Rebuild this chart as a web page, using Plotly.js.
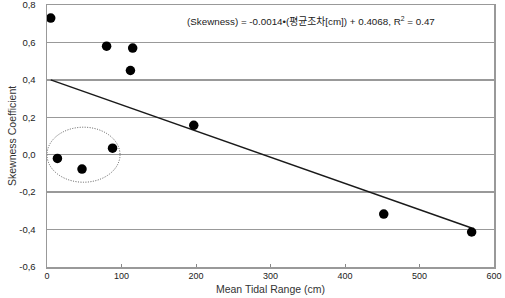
<!DOCTYPE html>
<html>
<head>
<meta charset="utf-8">
<script src="https://cdn.plot.ly/plotly-3.0.1.min.js"></script>
<style>
  html, body { margin: 0; padding: 0; background: #fff; }
  #chart { width: 505px; height: 298px; }
</style>
</head>
<body>
<div id="chart"></div>
<script>
// Mean tidal range (cm) and skewness coefficient per station
const tidalRange = [5, 80, 115, 112, 197, 14, 47, 88, 452, 570];
const skewness   = [0.73, 0.58, 0.57, 0.45, 0.157, -0.02, -0.077, 0.035, -0.317, -0.413];

// Linear fit stated in the annotation
const slope = -0.0014;
const intercept = 0.4068;
const rSquared = 0.47;

const yTickVals = [-0.6, -0.4, -0.2, 0.0, 0.2, 0.4, 0.6, 0.8];
const yTickText = ['-0,6', '-0,4', '-0,2', '0,0', '0,2', '0,4', '0,6', '0,8'];
const xTickVals = [0, 100, 200, 300, 400, 500, 600];

const fitX = [Math.min(...tidalRange), Math.max(...tidalRange)];
const fitY = fitX.map(x => slope * x + intercept);

const font = "'Liberation Sans', Arial, 'Noto Sans CJK KR', sans-serif";

const traces = [
  {
    x: fitX, y: fitY, type: 'scatter', mode: 'lines',
    line: { color: '#1a1a1a', width: 1.5 }, hoverinfo: 'skip'
  },
  {
    x: tidalRange, y: skewness, type: 'scatter', mode: 'markers',
    marker: { color: '#000', size: 9.5 }
  }
];

const layout = {
  width: 505, height: 298,
  margin: { l: 47, r: 11, t: 4.5, b: 31 },
  paper_bgcolor: '#fff', plot_bgcolor: '#fff',
  showlegend: false,
  font: { family: font, size: 9, color: '#333' },
  xaxis: {
    range: [0, 600], tickvals: xTickVals, ticks: 'inside', ticklen: 3,
    tickcolor: '#888', showgrid: false, zeroline: false,
    showline: true, linecolor: '#999', linewidth: 1.5, mirror: true,
    tickfont: { size: 9, color: '#222' },
    title: { text: 'Mean Tidal Range (cm)', font: { size: 10.5, color: '#333' }, standoff: 5 }
  },
  yaxis: {
    range: [-0.6, 0.8], tickvals: yTickVals, ticktext: yTickText,
    ticks: '', showgrid: true, gridcolor: '#999', gridwidth: 1.3,
    zeroline: false, showline: true, linecolor: '#999', linewidth: 1.5, mirror: true,
    ticklabelstandoff: 8, ticklabeloverflow: 'allow',
    tickfont: { size: 9.5, color: '#222' }
  },
  shapes: [
    {
      type: 'circle', xref: 'x', yref: 'y',
      x0: 0, x1: 98, y0: -0.147, y1: 0.147,
      line: { color: '#555', width: 1, dash: '1px,1.5px' }
    }
  ],
  annotations: [
    {
      xref: 'x', yref: 'y', x: 354, y: 0.717,
      text: '(Skewness) = ' + slope.toFixed(4) + '•(평균조차[cm]) + ' + intercept.toFixed(4) +
            ', R<sup>2</sup> = ' + rSquared.toFixed(2),
      showarrow: false, font: { size: 9.8, color: '#222' }
    },
    {
      // y-axis title
      xref: 'paper', yref: 'paper', x: -35 / 447, y: 0.5, xanchor: 'center', yanchor: 'middle',
      text: 'Skewness Coefficient', textangle: -90, showarrow: false,
      font: { size: 10.5, color: '#333' }
    }
  ]
};

Plotly.newPlot('chart', traces, layout, { staticPlot: true, displayModeBar: false });
</script>
</body>
</html>
